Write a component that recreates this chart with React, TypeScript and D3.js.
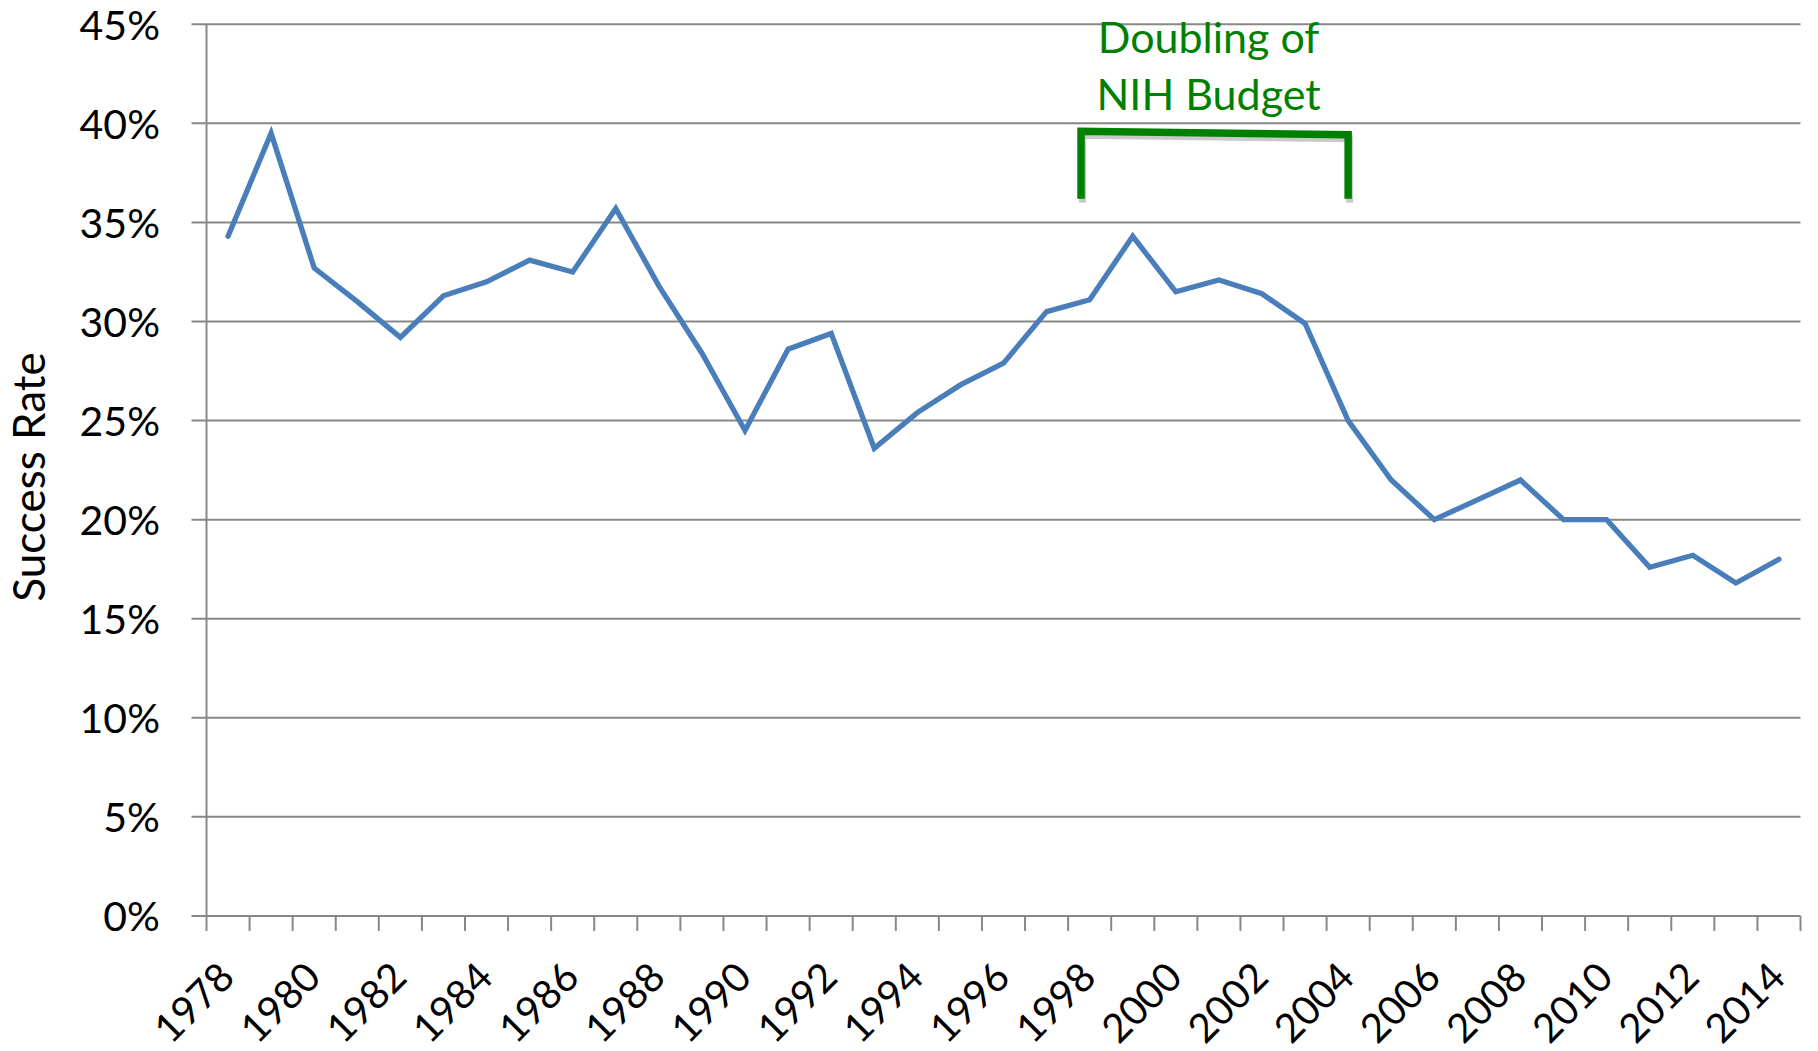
import { useEffect, useRef } from "react";
import * as d3 from "d3";

// fiscal years on the category axis
const years = d3.range(1978, 2015);

// success rate per year, in percent
const successRates = [
  34.3, 39.5, 32.7, 31.0, 29.2, 31.3, 32.0, 33.1, 32.5, 35.7,
  31.8, 28.4, 24.5, 28.6, 29.4, 23.6, 25.4, 26.8, 27.9, 30.5,
  31.1, 34.3, 31.5, 32.1, 31.4, 29.9, 25.0, 22.0, 20.0, 21.0,
  22.0, 20.0, 20.0, 17.6, 18.2, 16.8, 18.0,
];

const yTicks = [0, 5, 10, 15, 20, 25, 30, 35, 40, 45];
const xLabelYears = years.filter((y) => (y - 1978) % 2 === 0);

// annotation: doubling of the NIH budget
const annotationLines = ["Doubling of", "NIH Budget"];
const bracketYears = [1997.8, 2004];
const bracketLevels = { left: 39.6, right: 39.43, bottom: 36.2 };

const W = 1818;
const H = 1051;

const App = () => {
  const svgRef = useRef<SVGSVGElement | null>(null);

  useEffect(() => {
    const svgElement = svgRef.current;
    if (!svgElement) return;

    const margin = { top: 24.3, right: 17.5, bottom: 135.1, left: 206.5 };
    const font = "Lato, 'Open Sans', sans-serif";

    const x = d3
      .scaleLinear()
      .domain([years[0] - 0.5, years[years.length - 1] + 0.5])
      .range([margin.left, W - margin.right]);

    const y = d3
      .scaleLinear()
      .domain([0, 45])
      .range([H - margin.bottom, margin.top]);

    const svg = d3.select(svgElement);
    svg.selectAll("*").remove();

    const grid = "#878787";
    const gridWidth = 2;

    // horizontal gridlines (with the little outside tick on the left)
    svg.append("g")
      .selectAll("line")
      .data(yTicks.filter((t) => t > 0))
      .join("line")
      .attr("x1", margin.left - 15)
      .attr("x2", W - margin.right)
      .attr("y1", (d) => y(d))
      .attr("y2", (d) => y(d))
      .attr("stroke", grid)
      .attr("stroke-width", gridWidth);

    // y axis line
    svg.append("line")
      .attr("x1", margin.left)
      .attr("x2", margin.left)
      .attr("y1", y(45))
      .attr("y2", y(0))
      .attr("stroke", grid)
      .attr("stroke-width", gridWidth);

    // x axis line + tick marks on category boundaries
    svg.append("line")
      .attr("x1", margin.left - 15)
      .attr("x2", W - margin.right)
      .attr("y1", y(0))
      .attr("y2", y(0))
      .attr("stroke", grid)
      .attr("stroke-width", gridWidth);

    const boundaries = [...years.map((yr) => yr - 0.5), years[years.length - 1] + 0.5];
    svg.append("g")
      .selectAll("line")
      .data(boundaries)
      .join("line")
      .attr("x1", (d) => x(d))
      .attr("x2", (d) => x(d))
      .attr("y1", y(0))
      .attr("y2", y(0) + 15)
      .attr("stroke", grid)
      .attr("stroke-width", gridWidth);

    // y tick labels
    svg.append("g")
      .selectAll("text")
      .data(yTicks)
      .join("text")
      .attr("x", 160)
      .attr("y", (d) => y(d))
      .attr("text-anchor", "end")
      .attr("dominant-baseline", "central")
      .attr("font-family", font)
      .attr("font-size", 41)
      .attr("fill", "#000")
      .text((d) => `${d}%`);

    // x tick labels, rotated
    svg.append("g")
      .selectAll("text")
      .data(xLabelYears)
      .join("text")
      .attr("transform", (d) => `translate(${x(d) - 2}, 969) rotate(-45)`)
      .attr("text-anchor", "end")
      .attr("dominant-baseline", "central")
      .attr("font-family", font)
      .attr("font-size", 40)
      .attr("fill", "#000")
      .text((d) => d);

    // y axis title
    svg.append("text")
      .attr("transform", "translate(45, 477) rotate(-90)")
      .attr("text-anchor", "middle")
      .attr("font-family", font)
      .attr("font-size", 44)
      .attr("fill", "#000")
      .text("Success Rate");

    // the series
    const line = d3
      .line<number>()
      .x((_, i) => x(years[i]))
      .y((d) => y(d));

    svg.append("path")
      .datum(successRates)
      .attr("d", line)
      .attr("fill", "none")
      .attr("stroke", "#4A7EBB")
      .attr("stroke-width", 5.3)
      .attr("stroke-linejoin", "miter")
      .attr("stroke-linecap", "round");

    // bracket for the budget doubling (shadow first, then green)
    const bracket = d3.path();
    bracket.moveTo(x(bracketYears[0]), y(bracketLevels.bottom));
    bracket.lineTo(x(bracketYears[0]), y(bracketLevels.left));
    bracket.lineTo(x(bracketYears[1]), y(bracketLevels.right));
    bracket.lineTo(x(bracketYears[1]), y(bracketLevels.bottom));

    svg.append("path")
      .attr("d", bracket.toString())
      .attr("transform", "translate(1.5, 4)")
      .attr("fill", "none")
      .attr("stroke", "#c9c9c9")
      .attr("stroke-width", 7)
      .attr("stroke-linejoin", "miter");

    svg.append("path")
      .attr("d", bracket.toString())
      .attr("fill", "none")
      .attr("stroke", "#008000")
      .attr("stroke-width", 7.5)
      .attr("stroke-linejoin", "miter");

    const midYear = (bracketYears[0] + bracketYears[1]) / 2;
    svg.append("g")
      .selectAll("text")
      .data(annotationLines)
      .join("text")
      .attr("x", x(midYear) - 6)
      .attr("y", (_, i) => 53 + i * 57)
      .attr("text-anchor", "middle")
      .attr("font-family", font)
      .attr("font-size", 43)
      .attr("fill", "#008000")
      .text((d) => d);
  }, []);

  return (
    <svg
      ref={svgRef}
      width={W}
      height={H}
      style={{ position: "absolute", left: 0, top: 0, background: "#fff" }}
    />
  );
};

export default App;
